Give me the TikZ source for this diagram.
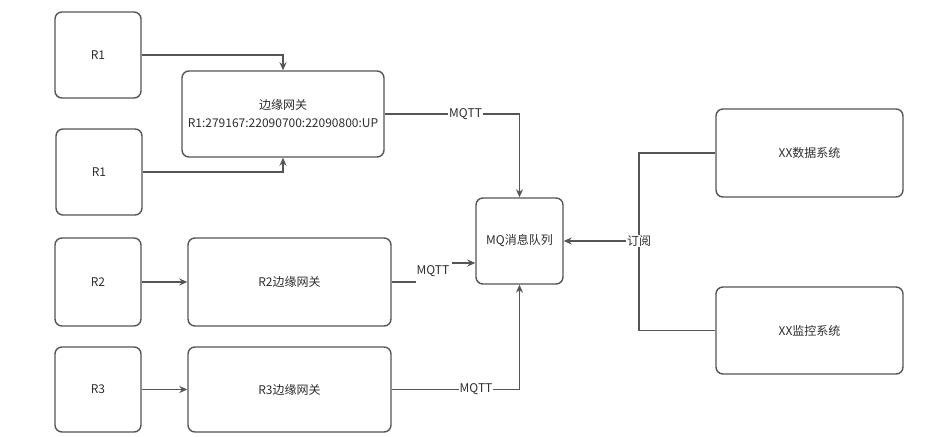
\documentclass[tikz,border=0pt]{standalone}
\usepackage{fontspec}
\setmainfont{Noto Sans CJK SC}
\usetikzlibrary{arrows.meta}
\definecolor{linegray}{HTML}{555555}
\definecolor{textgray}{HTML}{2E2E2E}
\tikzset{
  box/.style={draw=linegray, line width=1.4bp, rounded corners=7bp, inner sep=0pt,
    text=textgray, font=\fontsize{12bp}{15bp}\selectfont, align=center},
  conn/.style={draw=linegray, line width=1.4bp, -{Stealth[length=8bp,width=7bp]}},
  plain/.style={draw=linegray, line width=1.4bp},
  lbl/.style={fill=white, inner sep=1bp, text=textgray, font=\fontsize{12bp}{14bp}\selectfont}
}
\begin{document}
\begin{tikzpicture}[x=1bp,y=-1bp]
\useasboundingbox[fill=white] (0,0) rectangle (941,437);
% left sources
\node[box, minimum width=86bp, minimum height=86bp] (R1a) at (98,55) {R1};
\node[box, minimum width=86bp, minimum height=86bp] (R1b) at (99,172) {R1};
\node[box, minimum width=86bp, minimum height=88bp] (R2) at (98,282) {R2};
\node[box, minimum width=86bp, minimum height=85bp] (R3) at (98,389.5) {R3};
% gateways
\node[box, minimum width=202bp, minimum height=86bp] (gw1) at (283,114) {边缘网关\\[3bp]R1:279167:22090700:22090800:UP};
\node[box, minimum width=203bp, minimum height=88bp] (gw2) at (289.5,282) {R2边缘网关};
\node[box, minimum width=203bp, minimum height=85bp] (gw3) at (289.5,389.5) {R3边缘网关};
% MQ
\node[box, minimum width=87bp, minimum height=86bp] (mq) at (519.5,241) {MQ消息队列};
% right systems
\node[box, minimum width=187bp, minimum height=88bp] (data) at (809.5,153) {XX数据系统};
\node[box, minimum width=187bp, minimum height=87bp] (mon) at (809.5,330.5) {XX监控系统};
% connectors into gateway 1
\draw[conn] (R1a.east) -| (gw1.north);
\draw[conn] (R1b.east) -| (gw1.south);
\draw[conn] (R2.east) -- (gw2.west);
\draw[conn] (R3.east) -- (gw3.west);
% gateways to MQ
\draw[conn] (gw1.east) -| (mq.north) node[lbl, pos=0.3] {MQTT};
\coordinate (a2) at (416,282);
\coordinate (b2) at (452,263);
\draw[plain] (gw2.east) -- (a2);
\draw[conn] (b2) -- (b2 -| mq.west);
\node[lbl, fill=none] (m2) at (433,271) {MQTT};
\draw[conn] (gw3.east) -| (mq.south) node[lbl, pos=0.33] {MQTT};
% subscription
\coordinate (j) at (639,241);
\draw[plain] (data.west) -| (j);
\draw[plain] (mon.west) -| (j);
\draw[conn] (j) -- (mq.east);
\node[lbl] (sub) at (639,241) {订阅};
\end{tikzpicture}
\end{document}
